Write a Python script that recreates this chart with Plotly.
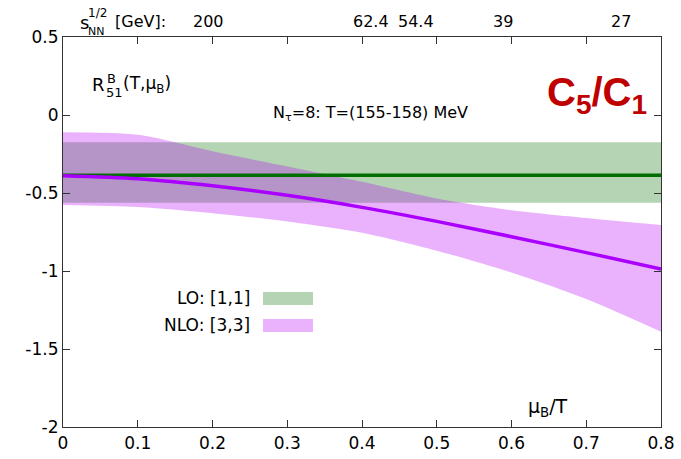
import plotly.graph_objects as go

# ---- data ----
mu_over_T = [0.0, 0.1, 0.2, 0.3, 0.4, 0.5, 0.6, 0.7, 0.8]
lo_central = -0.387
lo_upper = -0.175
lo_lower = -0.563
nlo_central = [-0.389, -0.408, -0.453, -0.515, -0.592, -0.682, -0.78, -0.882, -0.987]
nlo_upper = [-0.111, -0.127, -0.232, -0.33, -0.428, -0.535, -0.61, -0.66, -0.705]
nlo_lower = [-0.577, -0.59, -0.63, -0.683, -0.755, -0.87, -1.01, -1.18, -1.39]
x_ticks = [0, 0.1, 0.2, 0.3, 0.4, 0.5, 0.6, 0.7, 0.8]
x_ticklabels = ["0", "0.1", "0.2", "0.3", "0.4", "0.5", "0.6", "0.7", "0.8"]
y_ticks = [-2, -1.5, -1, -0.5, 0, 0.5]
y_ticklabels = ["-2", "-1.5", "-1", "-0.5", "0", "0.5"]
sqrt_s_labels = ["200", "62.4", "54.4", "39", "27"]
sqrt_s_pos = [0.195, 0.412, 0.472, 0.589, 0.746]

GREEN_BAND = "rgb(180,212,180)"
GREEN_LINE = "rgb(0,110,0)"
PURPLE_BAND = "rgba(185,0,245,0.3)"
PURPLE_LINE = "rgb(170,0,255)"
FONT = "DejaVu Sans"

fig = go.Figure()

# LO band
fig.add_trace(go.Scatter(x=[mu_over_T[0], mu_over_T[-1]], y=[lo_upper, lo_upper],
                         mode="lines", line=dict(width=0), showlegend=False, hoverinfo="skip"))
fig.add_trace(go.Scatter(x=[mu_over_T[0], mu_over_T[-1]], y=[lo_lower, lo_lower],
                         mode="lines", line=dict(width=0), fill="tonexty",
                         fillcolor=GREEN_BAND, showlegend=False, hoverinfo="skip"))
# NLO band
fig.add_trace(go.Scatter(x=mu_over_T, y=nlo_upper, mode="lines",
                         line=dict(width=0, shape="spline", smoothing=0.8),
                         showlegend=False, hoverinfo="skip"))
fig.add_trace(go.Scatter(x=mu_over_T, y=nlo_lower, mode="lines",
                         line=dict(width=0, shape="spline", smoothing=0.8),
                         fill="tonexty", fillcolor=PURPLE_BAND, showlegend=False, hoverinfo="skip"))
# LO line
fig.add_trace(go.Scatter(x=[mu_over_T[0], mu_over_T[-1]], y=[lo_central, lo_central],
                         mode="lines", line=dict(color=GREEN_LINE, width=3.5), showlegend=False))
# NLO line
fig.add_trace(go.Scatter(x=mu_over_T, y=nlo_central, mode="lines",
                         line=dict(color=PURPLE_LINE, width=3.5, shape="spline", smoothing=0.8),
                         showlegend=False))

axis_common = dict(showgrid=False, zeroline=False, showline=True, linecolor="#333", linewidth=1.2,
                   ticks="inside", ticklen=7, tickcolor="#333", mirror="ticks", automargin=False,
                   tickfont=dict(family=FONT, size=17, color="black"))

fig.update_xaxes(range=[0, 0.8], tickvals=x_ticks, ticktext=x_ticklabels, **axis_common)
fig.update_yaxes(range=[-2, 0.5], tickvals=y_ticks, ticktext=y_ticklabels, **axis_common)

ann = []
def A(text, x, y, size=17, xref="paper", yref="paper", xanchor="left", yanchor="middle",
      color="black", family=FONT):
    ann.append(dict(text=text, x=x, y=y, xref=xref, yref=yref, xanchor=xanchor, yanchor=yanchor,
                    showarrow=False, font=dict(family=family, size=size, color=color)))

# pixel-based paper coords helpers
L, R, T, B = 63, 661, 37, 427
W, H = R - L, B - T
def px(x): return (x - L) / W
def py(y): return (B - y) / H

for lab, pos in zip(sqrt_s_labels, sqrt_s_pos):
    A(lab, pos, py(22), xref="x", xanchor="center", size=16)
A("s", px(78), py(23), size=18)
A("1/2", px(86), py(13), size=12)
A("NN", px(86), py(31), size=11)
A("[GeV]:", px(113), py(22), size=16)

# R^B_51(T, mu_B)
A("R", px(90), py(84), size=18)
A("B", px(105), py(79), size=13)
A("51", px(104), py(92), size=13)
A("(T,μ<sub>B</sub>)", px(121), py(84), size=17)

# N_tau
A("N<sub>τ</sub>=8: T=(155-158) MeV", px(271), py(114), size=16)

# C5/C1
A("<b>C<sub>5</sub>/C<sub>1</sub></b>", px(649), py(95), size=40, xanchor="right",
  color="rgb(190,0,0)", family="Liberation Sans")

# mu_B/T
A("μ<sub>B</sub>/T", px(526), py(407), size=19)

# legend
A("LO: [1,1]", px(252), py(298), size=17, xanchor="right")
A("NLO: [3,3]", px(252), py(325), size=17, xanchor="right")

shapes = [
    dict(type="rect", xref="paper", yref="paper", x0=px(263), x1=px(313), y0=py(305), y1=py(292),
         fillcolor=GREEN_BAND, line=dict(width=0)),
    dict(type="rect", xref="paper", yref="paper", x0=px(263), x1=px(313), y0=py(332), y1=py(319),
         fillcolor="rgb(234,178,252)", line=dict(width=0)),
]

fig.update_layout(width=681, height=459, margin=dict(l=L, r=681 - R, t=T, b=459 - B),
                  plot_bgcolor="white", paper_bgcolor="white", annotations=ann, shapes=shapes)

fig.write_html("out.html")
